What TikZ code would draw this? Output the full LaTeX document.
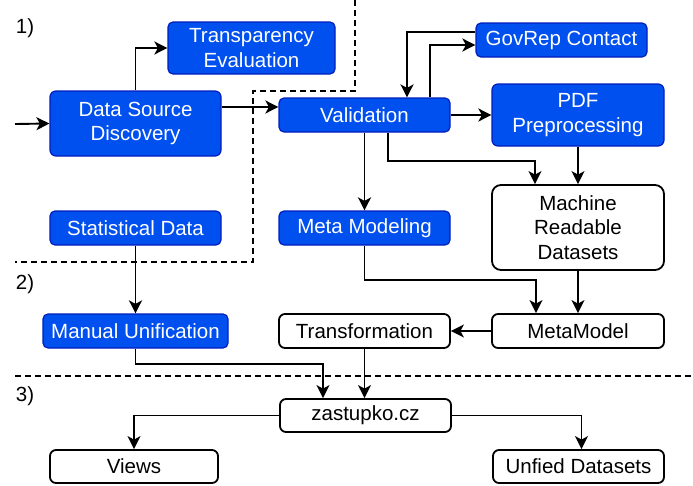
\documentclass[tikz,border=0pt]{standalone}
\usepackage{fontspec}
\setmainfont{Liberation Sans}
\usetikzlibrary{arrows.meta,calc}
\definecolor{bluefill}{HTML}{0050EF}
\definecolor{blueline}{HTML}{001DBC}
\begin{document}
\begin{tikzpicture}[x=1pt,y=-1pt,
  font=\fontsize{20.5}{24.7}\selectfont,
  box/.style={align=center, inner sep=0pt, line width=1.8pt, rounded corners=6pt, draw=black, fill=white},
  bbox/.style={align=center, inner sep=0pt, line width=1.2pt, rounded corners=5pt, draw=blueline, fill=bluefill, text=white},
  conn/.style={line width=1.9pt, -{Stealth[length=13pt,width=13pt,inset=3.5pt]}},
  sep/.style={line width=1.8pt, dash pattern=on 6pt off 4pt}]
\useasboundingbox (0,0) rectangle (693,485);
% separators
\draw[sep] (355,0) -- (355,91) -- (253,91) -- (253,262) -- (15,262);
\draw[sep] (15,376) -- (693,376);
% labels
\node (l1) at (25,28) {1)};
\node (l2) at (25,284) {2)};
\node (l3) at (25,396) {3)};
% nodes
\node[bbox, minimum width=167pt, minimum height=52pt] (te) at (251.5,48) {Transparency\\Evaluation};
\node[bbox, minimum width=171pt, minimum height=65pt, rounded corners=6pt] (dsd) at (135.5,123.5) {Data Source\\Discovery};
\node[bbox, minimum width=171pt, minimum height=34pt] (val) at (364.5,115) {Validation};
\node[bbox, minimum width=171pt, minimum height=34pt] (gov) at (561.5,40) {GovRep Contact};
\node[bbox, minimum width=172pt, minimum height=62pt, rounded corners=6pt] (pdf) at (578,115) {PDF\\Preprocessing};
\node[bbox, minimum width=171pt, minimum height=34pt] (stat) at (135.5,228) {Statistical Data};
\node[bbox, minimum width=171pt, minimum height=34pt] (mm) at (364.5,228) {Meta Modeling};
\node[box, minimum width=172pt, minimum height=85pt, rounded corners=9pt] (mrd) at (578,227.5) {Machine\\Readable\\Datasets};
\node[bbox, minimum width=185pt, minimum height=34pt] (man) at (135.5,331) {Manual Unification};
\node[box, minimum width=171pt, minimum height=34pt] (tr) at (364.5,331) {Transformation};
\node[box, minimum width=172pt, minimum height=34pt] (meta) at (578,331) {MetaModel};
\node[box, minimum width=171pt, minimum height=33pt] (zas) at (365.5,415.5) {zastupko.cz};
\node[box, minimum width=168pt, minimum height=33pt] (views) at (134,466.5) {Views};
\node[box, minimum width=171pt, minimum height=33pt] (unf) at (578.5,466.5) {Unfied Datasets};
% connectors
\coordinate (in) at (15,124);
\draw[conn] (in) -- (dsd.west);
\draw[conn] (dsd.north) |- (te.west);
\draw[conn] ([yshift=16.5pt]dsd.east) -- ([yshift=8pt]val.west);
\draw[conn] ([xshift=65.5pt]val.north) |- ([yshift=-5pt]gov.west);
\draw[conn] ([yshift=8pt]gov.west) -| ([xshift=42.5pt]val.north);
\draw[conn] (val.east) -- (pdf.west);
\draw[conn] (val.south) -- (mm.north);
\draw[conn] ([xshift=23.5pt]val.south) -- ++(0pt,-28pt) -| ([xshift=-43pt]mrd.north);
\draw[conn] (pdf.south) -- (mrd.north);
\draw[conn] (mm.south) -- ++(0pt,-34pt) -| ([xshift=-42pt]meta.north);
\draw[conn] (mrd.south) -- (meta.north);
\draw[conn] (meta.west) -- (tr.east);
\draw[conn] (stat.south) -- (man.north);
\draw[conn] (man.south) -- ++(0pt,-15pt) -| ([xshift=-42.5pt]zas.north);
\draw[conn] (tr.south) -- (tr.south |- zas.north);
\draw[conn] (zas.west) -| (views.north);
\draw[conn] (zas.east) -| ([xshift=3pt]unf.north);
\end{tikzpicture}
\end{document}
